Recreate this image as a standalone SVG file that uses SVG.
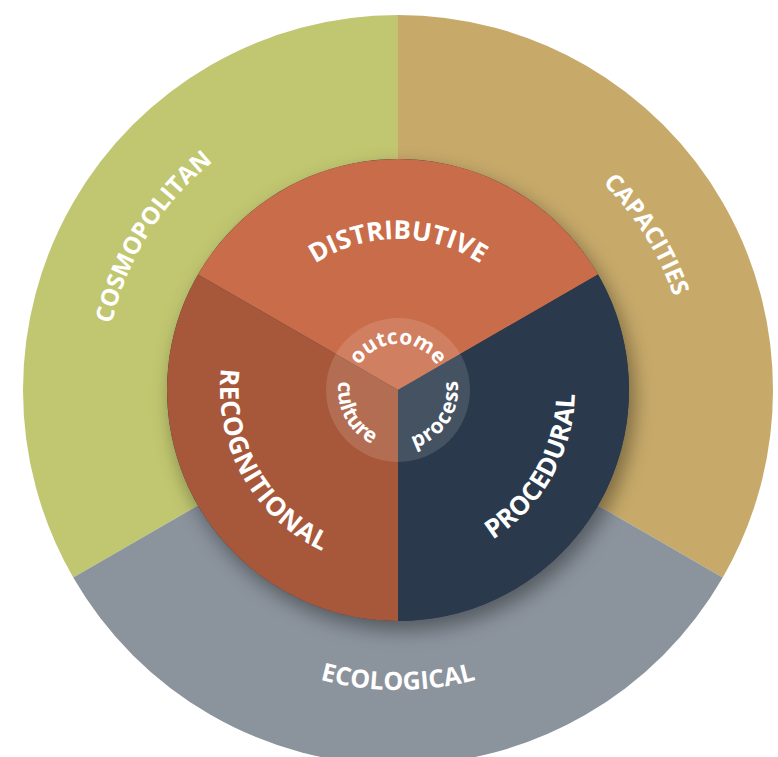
<svg xmlns="http://www.w3.org/2000/svg" width="778" height="757" viewBox="0 0 778 757">
<style>
.lbl{fill:#ffffff;font-family:"Open Sans","DejaVu Sans",sans-serif;font-weight:700;text-anchor:middle}
.outer{font-size:24px}
.inner{font-size:26px}
.core{font-size:21px}
</style>
<defs>
<filter id="shadow" x="-20%" y="-20%" width="140%" height="140%">
<feDropShadow dx="5" dy="9" stdDeviation="10" flood-color="#000000" flood-opacity="0.4"/>
</filter>
<path id="p-cosmo" d="M166.33,571.0 A294,294 0 0 1 459.13,102.43"/>
<path id="p-capa" d="M337.50,105.37 A291,291 0 0 1 627.31,569.17"/>
<path id="p-eco" d="M116.09,492.61 A300,300 0 0 0 679.91,492.61"/>
<path id="p-dist" d="M249.29,363.78 A151,151 0 0 1 546.71,363.78"/>
<path id="p-recog" d="M285.98,251.67 A178,178 0 0 0 455.95,558.30"/>
<path id="p-proc" d="M338.92,556.84 A177,177 0 0 0 510.59,253.43"/>
<path id="p-out" d="M352.17,385.99 A46,46 0 0 1 443.83,385.99"/>
<path id="p-cult" d="M365.32,339.68 A60,60 0 0 0 421.44,445.23"/>
<path id="p-proc2" d="M370.76,443.46 A60,60 0 0 0 434.11,342.08"/>
</defs>
<rect width="778" height="757" fill="#ffffff"/>
<g id="cosmopolitan">
<path d="M398,390 L73.24,577.5 A375,375 0 0 1 398,15 Z" fill="#C1C770"/>
<text class="lbl outer"><textPath href="#p-cosmo" startOffset="50%">COSMOPOLITAN</textPath></text>
</g>
<g id="capacities">
<path d="M398,390 L398,15 A375,375 0 0 1 722.76,577.5 Z" fill="#C7AA6A"/>
<text class="lbl outer"><textPath href="#p-capa" startOffset="50%">CAPACITIES</textPath></text>
</g>
<g id="ecological">
<path d="M398,390 L722.76,577.5 A375,375 0 0 1 73.24,577.5 Z" fill="#8B939D"/>
<text class="lbl outer" style="font-size:25px"><textPath href="#p-eco" startOffset="50%">ECOLOGICAL</textPath></text>
</g>
<circle cx="398" cy="390" r="231" fill="#2A394B" filter="url(#shadow)"/>
<g id="distributive">
<path d="M398,390 L197.95,274.5 A231,231 0 0 1 598.05,274.5 Z" fill="#C96C4A"/>
<text class="lbl inner"><textPath href="#p-dist" startOffset="50%">DISTRIBUTIVE</textPath></text>
</g>
<g id="procedural">
<path d="M398,390 L598.05,274.5 A231,231 0 0 1 398,621 Z" fill="#2A394B"/>
<text class="lbl inner"><textPath href="#p-proc" startOffset="50%">PROCEDURAL</textPath></text>
</g>
<g id="recognitional">
<path d="M398,390 L398,621 A231,231 0 0 1 197.95,274.5 Z" fill="#A8583A"/>
<text class="lbl inner" letter-spacing="0.6"><textPath href="#p-recog" startOffset="50%">RECOGNITIONAL</textPath></text>
</g>
<g id="core">
<circle cx="398" cy="390" r="72" fill="#ffffff" fill-opacity="0.13"/>
<g id="outcome"><text class="lbl core"><textPath href="#p-out" startOffset="50%">outcome</textPath></text></g>
<g id="culture"><text class="lbl core"><textPath href="#p-cult" startOffset="50%">culture</textPath></text></g>
<g id="process"><text class="lbl core" letter-spacing="1.2"><textPath href="#p-proc2" startOffset="50%">process</textPath></text></g>
</g>
</svg>
